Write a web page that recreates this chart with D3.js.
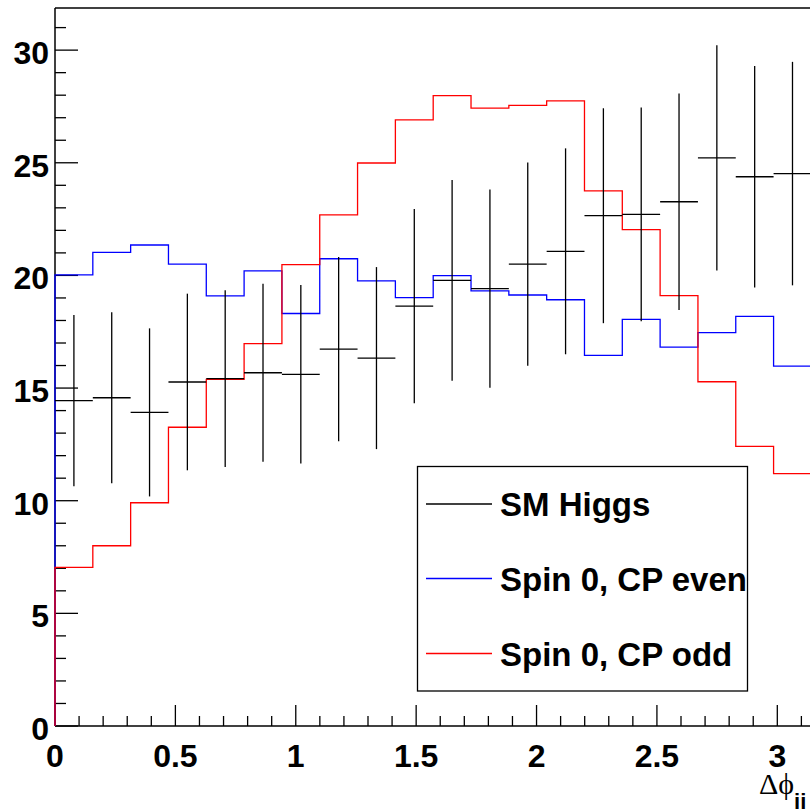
<!DOCTYPE html>
<html>
<head>
<meta charset="utf-8">
<script src="https://cdn.jsdelivr.net/npm/d3@7"></script>
<style>
  body { margin: 0; background: #fff; }
  svg { display: block; }
</style>
</head>
<body>
<svg></svg>
<script>
// histogram: 20 bins in delta phi_jj from 0 to pi
var nBins = 20;
var xMax = Math.PI;

var smHiggs = [14.44, 14.57, 13.92, 15.27, 15.42, 15.68, 15.61, 16.73, 16.33, 18.64,
               19.78, 19.41, 20.50, 21.07, 22.65, 22.71, 23.27, 25.22, 24.38, 24.52];
var smErr   = [3.80, 3.80, 3.73, 3.92, 3.92, 3.95, 3.96, 4.09, 4.04, 4.31,
               4.45, 4.40, 4.51, 4.57, 4.77, 4.74, 4.81, 5.00, 4.92, 4.96];
var cpEven  = [20.02, 21.02, 21.35, 20.50, 19.09, 20.20, 18.31, 20.74, 19.76, 19.01,
               19.99, 19.31, 19.13, 18.92, 16.45, 18.05, 16.82, 17.46, 18.18, 15.97];
var cpOdd   = [7.04, 8.00, 9.91, 13.26, 15.39, 16.97, 20.48, 22.69, 24.99, 26.90,
               27.98, 27.43, 27.55, 27.75, 23.75, 22.03, 19.10, 15.28, 12.41, 11.20];

var legendNames = ["SM Higgs", "Spin 0, CP even", "Spin 0, CP odd"];
var xTicks = [0, 0.5, 1, 1.5, 2, 2.5, 3];
var yTicks = [0, 5, 10, 15, 20, 25, 30];

var W = 810, H = 809;
var padL = 55, padR = 811.4, padT = 8, padB = 726;
var yMax = 31.87;

var svg = d3.select("svg").attr("width", W).attr("height", H);

var x = d3.scaleLinear().domain([0, xMax]).range([padL, padR]);
var y = d3.scaleLinear().domain([0, yMax]).range([padB, padT]);
var bw = xMax / nBins;

var font = "'Liberation Sans', Arial, Helvetica, sans-serif";

// frame
svg.append("line").attr("x1", padL).attr("x2", padR).attr("y1", padT).attr("y2", padT)
  .attr("stroke", "#000").attr("stroke-width", 1.5);
svg.append("line").attr("x1", padR).attr("x2", padR).attr("y1", padT).attr("y2", padB)
  .attr("stroke", "#000").attr("stroke-width", 1.5);

// x axis with inward ticks
var xAxis = svg.append("g");
xAxis.append("line").attr("x1", padL).attr("x2", padR).attr("y1", padB).attr("y2", padB)
  .attr("stroke", "#000").attr("stroke-width", 1.5);
d3.range(0, 32).forEach(function(k) {
  var v = k / 10;
  var major = k % 5 === 0;
  xAxis.append("line")
    .attr("x1", x(v)).attr("x2", x(v))
    .attr("y1", padB).attr("y2", padB - (major ? 21 : 10))
    .attr("stroke", "#000").attr("stroke-width", 1.3);
});
xAxis.selectAll("text.xl").data(xTicks).enter().append("text")
  .attr("class", "xl")
  .attr("x", function(d) { return x(d); })
  .attr("y", padB + 41)
  .attr("text-anchor", "middle")
  .attr("font-family", font).attr("font-weight", "bold").attr("font-size", 32)
  .text(function(d) { return d; });

// y axis
var yAxis = svg.append("g");
yAxis.append("line").attr("x1", padL).attr("x2", padL).attr("y1", padT).attr("y2", padB)
  .attr("stroke", "#000").attr("stroke-width", 1.5);
d3.range(0, 32).forEach(function(v) {
  var major = v % 5 === 0;
  yAxis.append("line")
    .attr("x1", padL).attr("x2", padL + (major ? 23 : 11))
    .attr("y1", y(v)).attr("y2", y(v))
    .attr("stroke", "#000").attr("stroke-width", 1.3);
});
yAxis.selectAll("text.yl").data(yTicks).enter().append("text")
  .attr("class", "yl")
  .attr("x", padL - 6)
  .attr("y", function(d) { return y(d) + 14; })
  .attr("text-anchor", "end")
  .attr("font-family", font).attr("font-weight", "bold").attr("font-size", 32)
  .text(function(d) { return d; });

// axis title
var title = svg.append("text")
  .attr("x", 759).attr("y", 794)
  .attr("font-family", "'Liberation Serif', 'Times New Roman', serif")
  .attr("font-size", 30);
title.append("tspan").text("Δϕ");
title.append("tspan").attr("dy", 15)
  .attr("font-family", font).attr("font-weight", "bold").attr("font-size", 22)
  .text("jj");

// step histograms
function stepPoints(vals) {
  var p = [[0, 0]];
  vals.forEach(function(v, i) { p.push([i * bw, v]); });
  p.push([xMax, vals[vals.length - 1]]);
  p.push([xMax, 0]);
  return p;
}
var step = d3.line()
  .x(function(d) { return x(d[0]); })
  .y(function(d) { return y(d[1]); })
  .curve(d3.curveStepAfter);

svg.append("path").attr("d", step(stepPoints(cpEven)))
  .attr("fill", "none").attr("stroke", "#0000ff").attr("stroke-width", 1.3);
svg.append("path").attr("d", step(stepPoints(cpOdd)))
  .attr("fill", "none").attr("stroke", "#ff0000").attr("stroke-width", 1.3);

// SM Higgs points with error bars
var pts = svg.append("g").selectAll("g").data(smHiggs).enter().append("g");
pts.append("line")
  .attr("x1", function(d, i) { return x(i * bw); })
  .attr("x2", function(d, i) { return x((i + 1) * bw); })
  .attr("y1", function(d) { return y(d); })
  .attr("y2", function(d) { return y(d); })
  .attr("stroke", "#000").attr("stroke-width", 1.3);
pts.append("line")
  .attr("x1", function(d, i) { return x((i + 0.5) * bw); })
  .attr("x2", function(d, i) { return x((i + 0.5) * bw); })
  .attr("y1", function(d, i) { return y(d - smErr[i]); })
  .attr("y2", function(d, i) { return y(d + smErr[i]); })
  .attr("stroke", "#000").attr("stroke-width", 1.3);

// legend
var leg = svg.append("g");
leg.append("rect")
  .attr("x", 417.5).attr("y", 466.5).attr("width", 330).attr("height", 224.5)
  .attr("fill", "#fff").attr("stroke", "#000").attr("stroke-width", 1.3);
var legColors = ["#000", "#0000ff", "#ff0000"];
var legY = [504, 578.5, 653.5];
legendNames.forEach(function(name, i) {
  leg.append("line")
    .attr("x1", 426).attr("x2", 492)
    .attr("y1", legY[i]).attr("y2", legY[i])
    .attr("stroke", legColors[i]).attr("stroke-width", 1.3);
  leg.append("text")
    .attr("x", 500).attr("y", legY[i] + 12)
    .attr("font-family", font).attr("font-weight", "bold").attr("font-size", 33)
    .text(name);
});
</script>
</body>
</html>
